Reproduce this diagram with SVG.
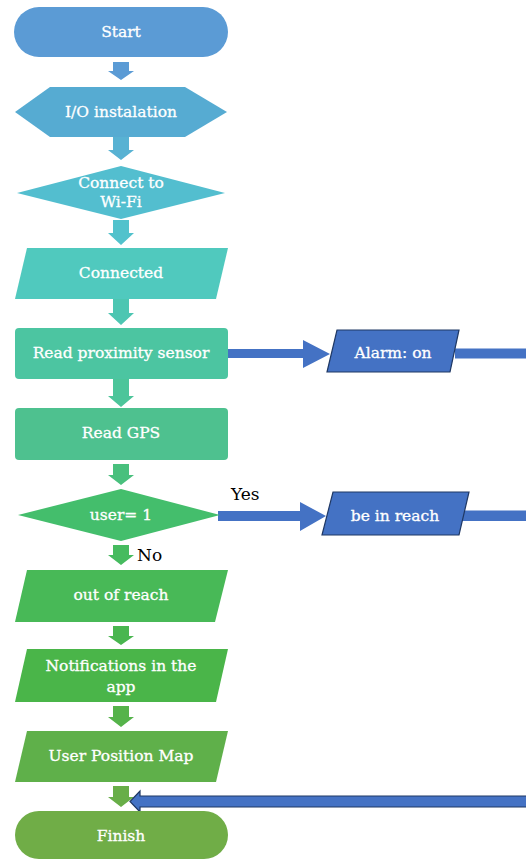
<svg xmlns="http://www.w3.org/2000/svg" width="526" height="859" viewBox="0 0 526 859">
  <style>
    .lbl { font-family: "DejaVu Serif", "Liberation Serif", serif; font-size: 15.5px; fill: #ffffff; stroke: #ffffff; stroke-width: 0.3; text-anchor: middle; dominant-baseline: central; }
    .note { font-family: "DejaVu Serif", "Liberation Serif", serif; font-size: 17px; fill: #000000; }
    .blue { fill: #4472C4; }
    .blueEdge { fill: #4472C4; stroke: #1F3864; stroke-width: 1.2; }
  </style>
  <rect width="526" height="859" fill="#ffffff"/>

  <!-- flow connectors -->
  <g id="connectors">
    <path d="M113,62 H129 V71 H134 L121,80 L108,71 H113 Z" fill="#5B9BD5"/>
    <path d="M113,130 H129 V150 H134 L121,160 L108,150 H113 Z" fill="#58B2D3"/>
    <path d="M113,220 H129 V233 H134 L121,245 L108,233 H113 Z" fill="#52C2CC"/>
    <path d="M113,292 H129 V313 H134 L121,325 L108,313 H113 Z" fill="#4DC6B2"/>
    <path d="M113,379 H129 V396 H134 L121,407 L108,396 H113 Z" fill="#4CC59A"/>
    <path d="M113,464 H129 V475 H134 L121,485 L108,475 H113 Z" fill="#49C07D"/>
    <path d="M113,545 H129 V555 H134 L121,565 L108,555 H113 Z" fill="#46BB5F"/>
    <path d="M113,626 H129 V636 H134 L121,645 L108,636 H113 Z" fill="#49B64F"/>
    <path d="M113,706 H129 V717 H134 L121,727 L108,717 H113 Z" fill="#55B34A"/>
    <path d="M113,786 H129 V797 H134 L121,807 L108,797 H113 Z" fill="#68AE48"/>

    <!-- proximity sensor to alarm -->
    <path class="blue" d="M222,349 H303 V340 L330,354 L303,368 V358 H222 Z"/>
    <rect class="blue" x="455" y="348.5" width="71" height="10"/>
    <!-- decision yes branch -->
    <path class="blue" d="M218,511 H300 V502 L326,516 L300,531 V521 H218 Z"/>
    <rect class="blue" x="462" y="510.5" width="64" height="10.5"/>
    <!-- return path into finish -->
    <path class="blueEdge" d="M527,796 H140 V791 L130,801.5 L140,812 V807 H527 Z"/>

    <text class="note" x="231" y="500">Yes</text>
    <text class="note" x="137" y="561">No</text>
  </g>

  <g id="start">
    <rect x="14" y="7" width="214" height="50" rx="25" fill="#5B9BD5"/>
    <text class="lbl" x="121" y="32">Start</text>
  </g>

  <g id="io-installation">
    <polygon points="15,112 50,87 185,87 227,112 185,137 50,137" fill="#56ABD2"/>
    <text class="lbl" x="121" y="112">I/O instalation</text>
  </g>

  <g id="connect-wifi">
    <polygon points="17,193 121,166 225,193 121,219" fill="#53BECF"/>
    <text class="lbl" x="121" y="183">Connect to</text>
    <text class="lbl" x="121" y="202">Wi-Fi</text>
  </g>

  <g id="connected">
    <polygon points="27,248 228,248 216,299 15,299" fill="#50C9BE"/>
    <text class="lbl" x="121" y="273">Connected</text>
  </g>

  <g id="read-proximity">
    <rect x="15" y="328" width="213" height="51" rx="4" fill="#4CC5A1"/>
    <text class="lbl" x="121" y="353">Read proximity sensor</text>
  </g>

  <g id="alarm-on">
    <polygon class="blueEdge" points="337,330 459,330 450,372 327,372"/>
    <text class="lbl" x="393" y="353">Alarm: on</text>
  </g>

  <g id="read-gps">
    <rect x="15" y="408" width="213" height="52" rx="4" fill="#4EC18F"/>
    <text class="lbl" x="121" y="433">Read GPS</text>
  </g>

  <g id="user-check">
    <polygon points="18,515 121,489 220,515 121,541" fill="#44BE6C"/>
    <text class="lbl" x="121" y="515">user= 1</text>
  </g>

  <g id="in-reach">
    <polygon class="blueEdge" points="333,492 469,492 459,535 322,535"/>
    <text class="lbl" x="395" y="516">be in reach</text>
  </g>

  <g id="out-of-reach">
    <polygon points="27,570 228,570 215,622 15,622" fill="#48B957"/>
    <text class="lbl" x="121" y="595">out of reach</text>
  </g>

  <g id="notifications">
    <polygon points="27,649 228,649 216,702 15,702" fill="#4AB549"/>
    <text class="lbl" x="121" y="666">Notifications in the</text>
    <text class="lbl" x="121" y="687">app</text>
  </g>

  <g id="position-map">
    <polygon points="27,731 228,731 216,782 15,782" fill="#5FB04A"/>
    <text class="lbl" x="121" y="756">User Position Map</text>
  </g>

  <g id="finish">
    <rect x="15" y="811" width="213" height="48" rx="24" fill="#70AD47"/>
    <text class="lbl" x="121" y="836">Finish</text>
  </g>
</svg>
